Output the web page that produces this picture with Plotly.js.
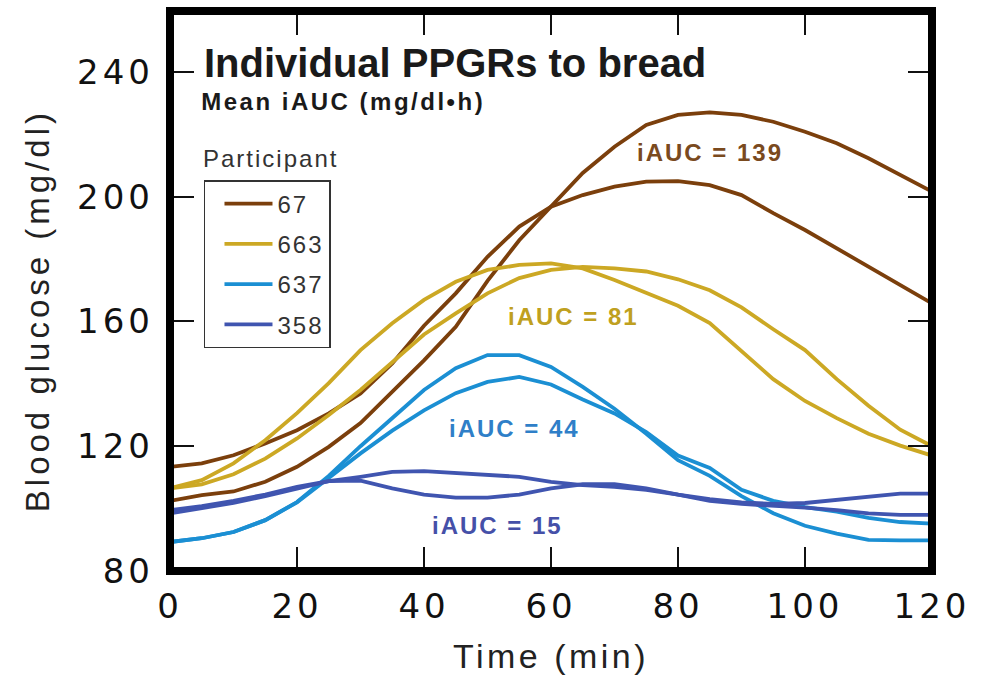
<!DOCTYPE html>
<html>
<head>
<meta charset="utf-8">
<script src="https://cdn.plot.ly/plotly-3.0.1.min.js"></script>
<style>
html,body{margin:0;padding:0;background:#fff}
#chart{width:992px;height:683px}
.xtick text,.ytick text{letter-spacing:4px}
.xtitle{letter-spacing:3.5px}
.legendtext{letter-spacing:2px}
g.annotation[data-index="1"] text{letter-spacing:2.5px}
g.annotation[data-index="2"] text{letter-spacing:2px}
g.annotation[data-index="3"] text{letter-spacing:4px}
g.annotation[data-index="4"] text,g.annotation[data-index="5"] text,
g.annotation[data-index="6"] text,g.annotation[data-index="7"] text{letter-spacing:2px}
</style>
</head>
<body>
<div id="chart"></div>
<script>
// Time points (min)
const times = [0,5,10,15,20,25,30,35,40,45,50,55,60,65,70,75,80,85,90,95,100,105,110,115,120];

// Participant labels and colours
const participants = ["67","663","637","358"];
const colors = ["#7b3f0c","#cca824","#1b8fd3","#4055b0"];

// Two bread replicates per participant (mg/dl)
const p67_a  = [102.5,104.3,105.5,108.6,113.4,119.8,127.4,137.4,147.5,158.3,173.0,186.0,196.8,207.6,216.0,223.0,226.2,227.0,226.2,224.0,220.8,217.1,212.3,207.0,201.6];
const p67_b  = [113.4,114.5,117.1,120.9,125.1,130.5,136.9,146.5,158.6,169.0,180.7,190.4,196.8,200.5,203.2,204.8,205.0,203.7,200.5,194.7,189.3,183.4,177.5,171.7,165.8];
const p663_a = [106.5,109.1,114.5,121.9,130.6,140.2,150.8,159.4,166.9,172.7,176.5,178.1,178.6,177.0,173.3,169.2,165.0,159.5,150.5,141.5,134.5,129.0,124.0,120.2,117.0];
const p663_b = [106.5,107.8,111.0,116.0,122.5,130.0,138.0,147.0,155.8,162.6,169.0,173.9,176.5,177.5,177.0,176.0,173.5,170.0,164.5,157.5,150.8,141.5,133.0,125.3,120.0];
const p637_a = [89.3,90.5,92.5,96.3,102.1,110.5,120.0,129.0,138.0,145.0,149.2,149.2,145.4,139.0,132.0,124.0,115.5,110.5,104.0,98.5,94.5,92.0,90.0,89.8,89.8];
const p637_b = [89.3,90.5,92.5,96.3,102.0,109.8,117.7,125.0,131.5,137.0,140.6,142.2,139.8,135.0,130.5,124.5,117.0,113.0,106.0,102.5,100.5,99.0,97.0,95.7,95.2];
const p358_a = [99.5,100.8,102.5,104.5,107.0,108.8,110.2,111.8,112.0,111.5,111.0,110.2,108.6,107.5,107.0,106.0,104.5,102.5,101.5,101.0,100.3,99.5,98.5,98.0,98.0];
const p358_b = [98.5,100.0,101.8,104.0,106.5,108.8,109.0,106.5,104.5,103.5,103.5,104.5,106.5,107.8,107.8,106.5,104.5,103.0,102.0,101.5,101.8,102.7,103.7,104.8,104.8];

const seriesSets = [[p67_a,p67_b],[p663_a,p663_b],[p637_a,p637_b],[p358_a,p358_b]];

// iAUC labels
const iaucLabels = ["iAUC = 139","iAUC = 81","iAUC = 44","iAUC = 15"];
const iaucX = [85, 63.6, 54.2, 51.5];
const iaucY = [214, 161.7, 125.8, 94.7];
const iaucColors = ["#7a4a1e","#bfa020","#2f7fc8","#4550a8"];

const traces = [];
seriesSets.forEach((pair, i) => {
  pair.forEach((ys, j) => {
    traces.push({
      x: times, y: ys, type: "scatter", mode: "lines",
      name: participants[i], legendgroup: participants[i],
      showlegend: j === 0,
      line: {color: colors[i], width: 3.8}
    });
  });
});

const annotations = [
  {xref:"paper", yref:"paper", x:0.042, y:0.907, xanchor:"left", yanchor:"middle", showarrow:false,
   text:"<b>Individual PPGRs to bread</b>", font:{family:"Liberation Sans, Arial", size:40, color:"#1a1a1a"}},
  {xref:"paper", yref:"paper", x:0.227, y:0.839, xanchor:"center", yanchor:"middle", showarrow:false,
   text:"<b>Mean iAUC (mg/dl\u2022h)</b>", font:{family:"Liberation Sans, Arial", size:24, color:"#1a1a1a"}},
  {xref:"paper", yref:"paper", x:0.1319, y:0.737, xanchor:"center", yanchor:"middle", showarrow:false,
   text:"Participant", font:{family:"Liberation Sans, Arial", size:24, color:"#333"}},
  {xref:"paper", yref:"paper", x:-0.1745, y:0.464, xanchor:"center", yanchor:"middle", showarrow:false,
   textangle:-90, text:"Blood glucose (mg/dl)", font:{family:"Liberation Sans, Arial", size:33, color:"#222"}}
];
iaucLabels.forEach((t, i) => {
  annotations.push({x: iaucX[i], y: iaucY[i], xref:"x", yref:"y", showarrow:false,
    text:"<b>"+t+"</b>", font:{family:"Liberation Sans, Arial", size:24, color: iaucColors[i]}});
});

const layout = {
  width: 992, height: 683,
  margin: {l:170, r:60, t:11, b:112},
  paper_bgcolor:"#fff", plot_bgcolor:"#fff",
  showlegend: true,
  legend: {x:0.0446, y:0.698, xanchor:"left", yanchor:"top",
    bordercolor:"#333", borderwidth:1.5, bgcolor:"#fff",
    font:{family:"Liberation Sans, Arial", size:24, color:"#333"},
    tracegroupgap: 6, itemwidth: 48, indentation: 14},
  xaxis: {range:[0,120], tickvals:[0,20,40,60,80,100,120], ticks:"inside", ticklen:24, tickwidth:2,
    tickcolor:"#111", mirror:"allticks", showline:false, showgrid:false, zeroline:false,
    tickfont:{family:"DejaVu Sans", size:34, color:"#111"}, ticklabelstandoff: 12,
    title:{text:"Time (min)", font:{family:"Liberation Sans, Arial", size:34, color:"#222"}, standoff: 19}},
  yaxis: {range:[80,259.5], tickvals:[80,120,160,200,240], ticks:"inside", ticklen:24, tickwidth:2,
    tickcolor:"#111", mirror:"allticks", showline:false, showgrid:false, zeroline:false,
    tickfont:{family:"DejaVu Sans", size:34, color:"#111"}, ticklabelstandoff: 15},
  shapes: [{type:"rect", xref:"paper", yref:"paper", x0:0, x1:1, y0:0, y1:1,
    line:{color:"#000", width:8}, layer:"above"}],
  annotations: annotations
};

Plotly.newPlot("chart", traces, layout, {displayModeBar:false, staticPlot:true});
</script>
</body>
</html>
